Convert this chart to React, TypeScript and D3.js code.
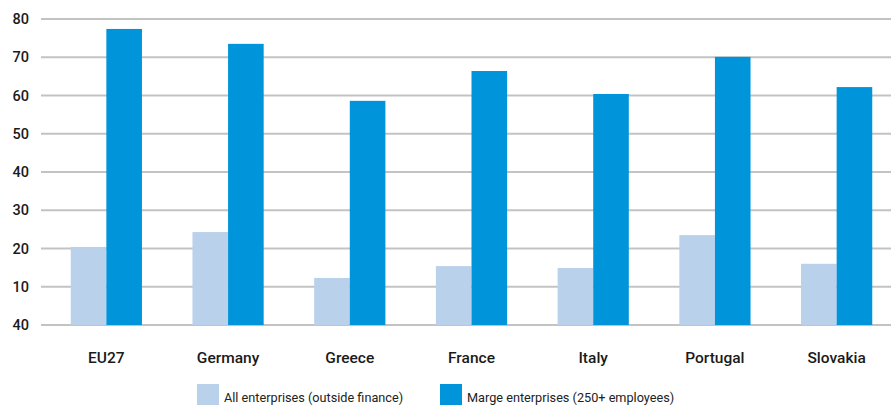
import React from "react";
import * as d3 from "d3";

const categories = ["EU27", "Germany", "Greece", "France", "Italy", "Portugal", "Slovakia"];
const allEnterprises = [20.4, 24.3, 12.3, 15.4, 14.9, 23.5, 16.0];
const largeEnterprises = [77.4, 73.5, 58.6, 66.4, 60.4, 70.1, 62.2];
const tickValues = [0, 10, 20, 30, 40, 50, 60, 70, 80];
const tickLabels = ["40", "10", "20", "30", "40", "50", "60", "70", "80"];
const seriesNames = ["All enterprises (outside finance)", "Marge enterprises (250+ employees)"];
const colors = ["#bad1ec", "#0094da"];

export default function App() {
  const W = 891, H = 405;
  const y = d3.scaleLinear().domain([0, 80]).range([325, 19]);
  const x = d3.scaleBand().domain(categories).range([45.5, 897.5]).paddingInner(0.415).paddingOuter(0.2075);
  const sub = d3.scaleBand().domain(["a", "b"]).range([0, x.bandwidth()]);
  const font = "Roboto, 'Noto Sans', sans-serif";
  return (
    <svg width={W} height={H} style={{ position: "absolute", left: 0, top: 0 }}>
      <rect width={W} height={H} fill="#fff" />
      {tickValues.map((t, i) => (
        <g key={t}>
          <line x1={41} x2={891} y1={y(t)} y2={y(t)} stroke="#c3c3c3" strokeWidth={2} />
          <text x={29} y={y(t)} dy="0.35em" textAnchor="end" fontFamily={font} fontSize={14.5} fontWeight={500} fill="#1a1a1a">
            {tickLabels[i]}
          </text>
        </g>
      ))}
      {categories.map((c, i) => (
        <g key={c} transform={`translate(${x(c)},0)`}>
          <rect x={sub("a")} width={sub.bandwidth()} y={y(allEnterprises[i])} height={y(0) - y(allEnterprises[i])} fill={colors[0]} />
          <rect x={sub("b")} width={sub.bandwidth()} y={y(largeEnterprises[i])} height={y(0) - y(largeEnterprises[i])} fill={colors[1]} />
          <text x={x.bandwidth() / 2} y={363} textAnchor="middle" fontFamily={font} fontSize={15.5} fontWeight={500} fill="#1a1a1a">
            {c}
          </text>
        </g>
      ))}
      <g fontFamily={font} fontSize={12.7} fill="#222">
        <rect x={197} y={384} width={22} height={21} fill={colors[0]} />
        <text x={224} y={402}>{seriesNames[0]}</text>
        <rect x={440} y={384} width={22} height={21} fill={colors[1]} />
        <text x={467} y={402}>{seriesNames[1]}</text>
      </g>
    </svg>
  );
}
